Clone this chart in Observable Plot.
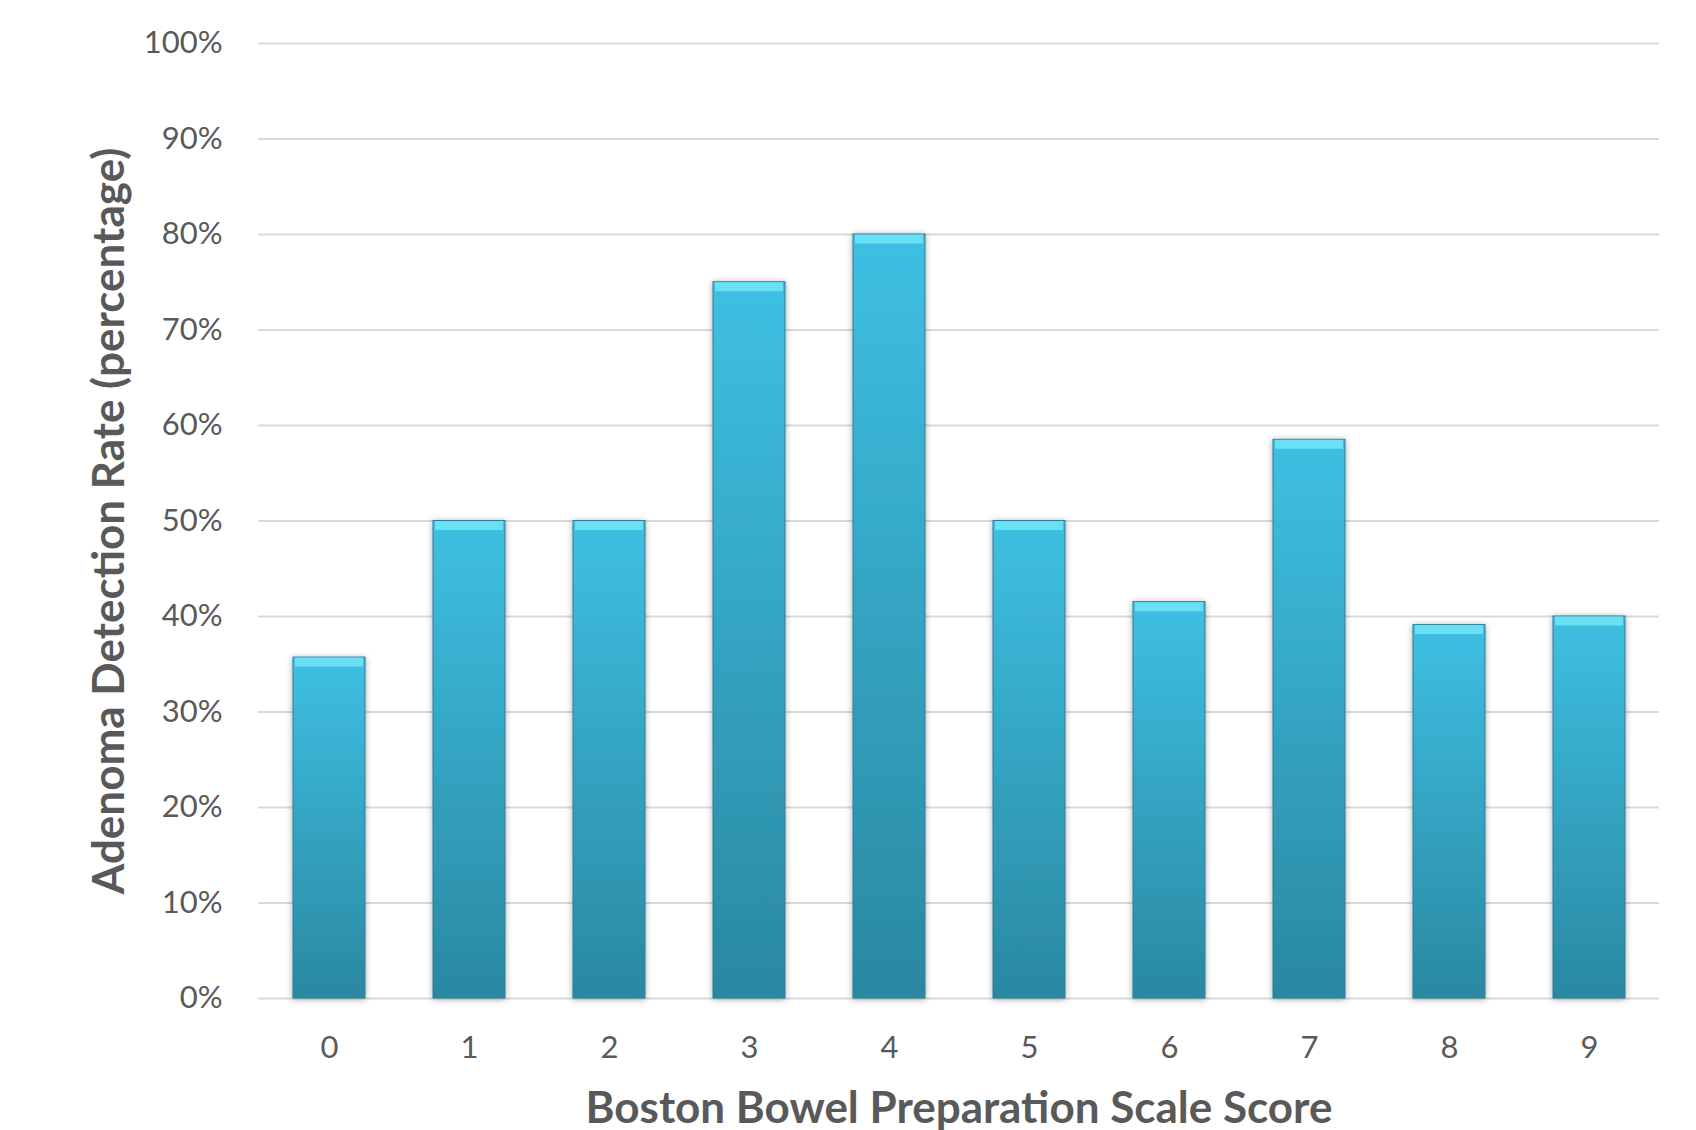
<!DOCTYPE html>
<html>
<head>
<meta charset="utf-8">
<script src="https://cdn.jsdelivr.net/npm/d3@7"></script>
<script src="https://cdn.jsdelivr.net/npm/@observablehq/plot@0.6"></script>
<style>
  html, body { margin: 0; padding: 0; background: #fff; }
  #chart svg { display: block; }
</style>
</head>
<body>
<div id="chart"></div>
<script>
const scores = ["0", "1", "2", "3", "4", "5", "6", "7", "8", "9"];
const rates = [0.357, 0.50, 0.50, 0.75, 0.80, 0.50, 0.415, 0.585, 0.391, 0.40];
const yTicks = [0, 0.1, 0.2, 0.3, 0.4, 0.5, 0.6, 0.7, 0.8, 0.9, 1.0];
const xTitle = "Boston Bowel Preparation Scale Score";
const yTitle = "Adenoma Detection Rate (percentage)";

const data = scores.map((s, i) => ({score: s, rate: rates[i]}));

const font = "Lato, 'Open Sans', sans-serif";
const grey = "#595959";

const chart = Plot.plot({
  width: 1696,
  height: 1130,
  marginLeft: 258,
  marginRight: 37,
  marginTop: 43,
  marginBottom: 132,
  style: {fontFamily: font, background: "#fff", overflow: "visible"},
  x: {domain: scores, paddingInner: 0.486, paddingOuter: 0.243, label: null},
  y: {domain: [0, 1], label: null},
  marks: [
    Plot.gridY(yTicks, {stroke: "#d9d9d9", strokeOpacity: 1, strokeWidth: 2}),
    Plot.axisY(yTicks, {tickSize: 0, tickPadding: 36, tickFormat: d3.format(".0%"), fontSize: 31, fill: grey, label: null}),
    Plot.axisX({tickSize: 0, tickPadding: 37, fontSize: 31, fill: grey, label: null}),
    Plot.barY(data, {x: "score", y: "rate", fill: "url(#barGrad)", stroke: "#2a7f96", strokeWidth: 1, className: "bars"}),
    Plot.tickY(data, {x: "score", y: "rate", stroke: "url(#bevelGrad)", strokeWidth: 9, dy: 4.5, insetLeft: 2, insetRight: 2}),
    Plot.text([xTitle], {frameAnchor: "bottom", dy: 124, fontSize: 44, fontWeight: "bold", fill: grey}),
    Plot.text([yTitle], {frameAnchor: "left", dx: -149, rotate: -90, textAnchor: "middle", fontSize: 44, fontWeight: "bold", fill: grey})
  ]
});

const svg = d3.select(chart);
const defs = svg.insert("defs", ":first-child");
const g = defs.append("linearGradient").attr("id", "barGrad").attr("x1", 0).attr("y1", 0).attr("x2", 0).attr("y2", 1);
g.append("stop").attr("offset", "0%").attr("stop-color", "#3ec0e3");
g.append("stop").attr("offset", "100%").attr("stop-color", "#2a88a1");
const b = defs.append("linearGradient").attr("id", "bevelGrad").attr("gradientUnits", "userSpaceOnUse")
  .attr("x1", 0).attr("y1", 0).attr("x2", 0).attr("y2", 1);
b.append("stop").attr("offset", "0%").attr("stop-color", "#6ae0f7");
b.append("stop").attr("offset", "100%").attr("stop-color", "#6ae0f7");
const f = defs.append("filter").attr("id", "shadow").attr("x", "-20%").attr("y", "-5%").attr("width", "140%").attr("height", "110%");
f.append("feDropShadow").attr("dx", 0).attr("dy", 1).attr("stdDeviation", 3).attr("flood-color", "#000").attr("flood-opacity", 0.35);
svg.selectAll(".bars rect").attr("filter", "url(#shadow)");

document.getElementById("chart").appendChild(chart);
</script>
</body>
</html>
